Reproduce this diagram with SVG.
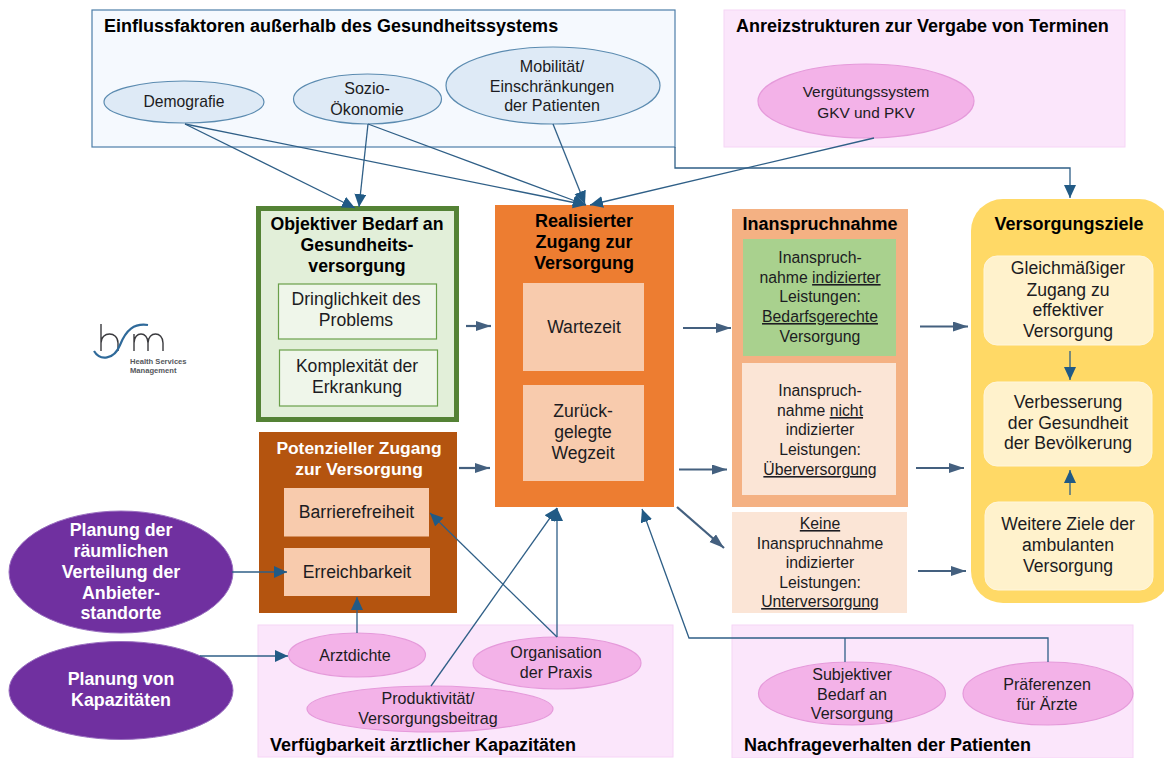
<svg xmlns="http://www.w3.org/2000/svg" width="1164" height="758" viewBox="0 0 1164 758">
<style>
text{font-family:"Liberation Sans",Arial,sans-serif;fill:#1c1c22;text-anchor:middle}
.t{font-size:15.8px}
.s{font-size:16.1px}
.l{font-size:17.6px}
.b{font-size:18px;font-weight:bold;fill:#000}
.w{font-size:17.8px;font-weight:bold;fill:#fff}
.st{text-anchor:start}
.u{text-decoration:underline}
.blue{fill:#deeaf6;stroke:#5b8bb0;stroke-width:1.2}
.pink{fill:#f3b2e8;stroke:#e59ada;stroke-width:1.2}
.purple{fill:#7030a0;stroke:#9a70c0;stroke-width:1}
.pbg{fill:#fbe6fb;stroke:#f6d5f6;stroke-width:1}
.thin{fill:none;stroke:#2f5f87;stroke-width:1.3}
.thick{fill:none;stroke:#44607f;stroke-width:2.2}
</style>
<defs>
<marker id="a" markerUnits="userSpaceOnUse" markerWidth="15" markerHeight="14" refX="13" refY="6" orient="auto"><path d="M0 0L13 6L0 12Z" fill="#215a85"/></marker>
<marker id="g" markerUnits="userSpaceOnUse" markerWidth="16" markerHeight="12" refX="15" refY="5" orient="auto"><path d="M0 0L15 5L0 10Z" fill="#44607f"/></marker>
</defs>
<rect width="1164" height="758" fill="#fff"/>

<g id="einfluss"><rect x="92" y="10" width="583" height="137" fill="#f5f9fe" stroke="#4d7ea8" stroke-width="1.2"/>
<text class="b st" x="104" y="32">Einflussfaktoren außerhalb des Gesundheitssystems</text></g>
<g id="anreiz"><rect class="pbg" x="724" y="10" width="401" height="137"/>
<text class="b st" x="736" y="32">Anreizstrukturen zur Vergabe von Terminen</text></g>
<g id="verfuegbarkeit"><rect class="pbg" x="258" y="625" width="415" height="132"/>
<text class="b st" x="270" y="751">Verfügbarkeit ärztlicher Kapazitäten</text></g>
<g id="nachfrage"><rect class="pbg" x="732" y="625" width="401" height="133"/>
<text class="b st" x="744" y="751">Nachfrageverhalten der Patienten</text></g>

<g id="demografie"><ellipse class="blue" cx="184" cy="102" rx="80" ry="21"/><text style="font-size:15.7px" x="184" y="107">Demografie</text></g>
<g id="sozio"><ellipse class="blue" cx="367.500" cy="99" rx="74" ry="25"/><text class="s" x="367" y="94">Sozio-</text><text class="s" x="367" y="115">Ökonomie</text></g>
<g id="mobilitaet"><ellipse class="blue" cx="553" cy="85.500" rx="107" ry="38.500"/><text class="s" x="552" y="72">Mobilität/</text><text class="s" x="552" y="92">Einschränkungen</text><text class="s" x="552" y="111">der Patienten</text></g>
<g id="verguetung"><ellipse class="pink" cx="866" cy="101" rx="108" ry="37"/><text style="font-size:15.4px" x="866" y="97">Vergütungssystem</text><text style="font-size:15.4px" x="866" y="118">GKV und PKV</text></g>

<g id="objektiv"><rect x="258.500" y="208.500" width="198" height="211" fill="#e2efd9" stroke="#548235" stroke-width="5"/>
<text class="b" style="font-size:17.7px" x="357" y="230">Objektiver Bedarf an</text><text class="b" style="font-size:17.7px" x="357" y="251">Gesundheits-</text><text class="b" style="font-size:17.7px" x="357" y="272">versorgung</text></g>
<g id="dringlichkeit"><rect x="278.500" y="284" width="158" height="55" fill="#eff6ea" stroke="#6aa04a" stroke-width="1.2"/><text class="l" x="356" y="305">Dringlichkeit des</text><text class="l" x="356" y="326">Problems</text></g>
<g id="komplexitaet"><rect x="279.500" y="350" width="158" height="56" fill="#eff6ea" stroke="#6aa04a" stroke-width="1.2"/><text class="l" x="357" y="372">Komplexität der</text><text class="l" x="357" y="393">Erkrankung</text></g>

<g id="potenziell"><rect x="259" y="432" width="198" height="181" fill="#b4540f"/>
<text class="w" style="font-size:17.4px" x="359" y="454">Potenzieller Zugang</text><text class="w" style="font-size:17.4px" x="359" y="475">zur Versorgung</text></g>
<g id="barriere"><rect x="284" y="488" width="145" height="48.500" fill="#f8cbad"/><text class="l" x="356.500" y="518">Barrierefreiheit</text></g>
<g id="erreichbarkeit"><rect x="284" y="548" width="146" height="48" fill="#f8cbad"/><text class="l" x="357" y="578">Erreichbarkeit</text></g>

<g id="realisiert"><rect x="495" y="205" width="179" height="302" fill="#ed7d31"/>
<text class="b" x="584" y="227">Realisierter</text><text class="b" x="584" y="248">Zugang zur</text><text class="b" x="584" y="269">Versorgung</text></g>
<g id="wartezeit"><rect x="523" y="283" width="121" height="88" fill="#f8cbad"/><text class="l" x="584" y="333">Wartezeit</text></g>
<g id="wegzeit"><rect x="523" y="385" width="121" height="96" fill="#f8cbad"/><text class="l" x="583" y="417">Zurück-</text><text class="l" x="583" y="438">gelegte</text><text class="l" x="583" y="459">Wegzeit</text></g>

<g id="inanspruchnahme"><rect x="732" y="209" width="176" height="298" fill="#f4b183"/>
<text class="b" x="820" y="230">Inanspruchnahme</text></g>
<g id="indiziert"><rect x="743" y="239" width="153" height="117" fill="#a9d18e"/>
<text class="t" x="820" y="263">Inanspruch-</text><text class="t" x="820" y="283">nahme <tspan class="u">indizierter</tspan></text><text class="t" x="820" y="302">Leistungen:</text><text class="t u" x="820" y="322">Bedarfsgerechte</text><text class="t" x="820" y="342">Versorgung</text></g>
<g id="nichtindiziert"><rect x="742" y="363" width="154" height="132" fill="#fbe5d6"/>
<text class="t" x="820" y="396">Inanspruch-</text><text class="t" x="820" y="416">nahme <tspan class="u">nicht</tspan></text><text class="t" x="820" y="435">indizierter</text><text class="t" x="820" y="455">Leistungen:</text><text class="t u" x="820" y="475">Überversorgung</text></g>
<g id="keine"><rect x="732" y="512" width="175" height="101" fill="#fbe5d6"/>
<text class="t u" x="820" y="529">Keine</text><text class="t" x="820" y="549">Inanspruchnahme</text><text class="t" x="820" y="568">indizierter</text><text class="t" x="820" y="588">Leistungen:</text><text class="t u" x="820" y="607">Unterversorgung</text></g>

<g id="ziele"><rect x="971" y="199" width="200" height="404" rx="32" fill="#ffd966"/>
<text class="b" x="1069" y="230">Versorgungsziele</text></g>
<g id="ziel1"><rect x="984" y="256" width="169" height="89" rx="13" fill="#fff2cc" stroke="#fff6dc"/><text class="l" x="1068" y="274">Gleichmäßiger</text><text class="l" x="1068" y="296">Zugang zu</text><text class="l" x="1068" y="316">effektiver</text><text class="l" x="1068" y="337">Versorgung</text></g>
<g id="ziel2"><rect x="984" y="382" width="168" height="84" rx="13" fill="#fff2cc" stroke="#fff6dc"/><text class="l" x="1068" y="408">Verbesserung</text><text class="l" x="1068" y="429">der Gesundheit</text><text class="l" x="1068" y="449">der Bevölkerung</text></g>
<g id="ziel3"><rect x="985" y="502" width="168" height="88" rx="13" fill="#fff2cc" stroke="#fff6dc"/><text class="l" x="1068" y="530">Weitere Ziele der</text><text class="l" x="1068" y="551">ambulanten</text><text class="l" x="1068" y="572">Versorgung</text></g>

<g id="arztdichte"><ellipse class="pink" cx="357" cy="655" rx="68.500" ry="22"/><text class="s" x="355" y="661">Arztdichte</text></g>
<g id="organisation"><ellipse class="pink" cx="557" cy="663" rx="84" ry="26"/><text class="s" x="556" y="658">Organisation</text><text class="s" x="556" y="678">der Praxis</text></g>
<g id="produktivitaet"><ellipse class="pink" cx="430" cy="709" rx="123" ry="23"/><text class="s" x="428" y="704">Produktivität/</text><text class="s" x="428" y="724">Versorgungsbeitrag</text></g>
<g id="subjektiv"><ellipse class="pink" cx="852" cy="693.500" rx="93.500" ry="31.500"/><text class="s" x="852" y="680">Subjektiver</text><text class="s" x="852" y="700">Bedarf an</text><text class="s" x="852" y="719">Versorgung</text></g>
<g id="praeferenzen"><ellipse class="pink" cx="1048" cy="693.500" rx="85" ry="31.500"/><text class="s" x="1047" y="690">Präferenzen</text><text class="s" x="1047" y="710">für Ärzte</text></g>

<g id="planung-raum"><ellipse class="purple" cx="121" cy="572" rx="112" ry="61"/><text class="w" x="121" y="536">Planung der</text><text class="w" x="121" y="557">räumlichen</text><text class="w" x="121" y="578">Verteilung der</text><text class="w" x="121" y="599">Anbieter-</text><text class="w" x="121" y="619">standorte</text></g>
<g id="planung-kap"><ellipse class="purple" cx="121" cy="690.500" rx="112" ry="49"/><text class="w" x="121" y="685">Planung von</text><text class="w" x="121" y="706">Kapazitäten</text></g>

<g id="logo">
<path d="M101 324V351M101 343C101 331 118 331 118 343V351" fill="none" stroke="#3a3a3e" stroke-width="1.4"/>
<path d="M94 351C100 361 114 360 120 345C126 330 134 323 148 325" fill="none" stroke="#2f6a9a" stroke-width="2.2"/>
<path d="M134 351V334M134 343C134 331 148 331 148 343V351M148 343C148 331 163 331 163 343V351" fill="none" stroke="#3a3a3e" stroke-width="1.4"/>
<text x="130" y="364" style="font-size:7.6px;font-weight:bold;text-anchor:start;fill:#55585c">Health Services</text>
<text x="130" y="373" style="font-size:7.6px;font-weight:bold;text-anchor:start;fill:#55585c">Management</text>
</g>

<g id="connectors">
<path class="thin" marker-end="url(#a)" d="M185 124L355 208"/>
<path class="thin" marker-end="url(#a)" d="M185 124L586 205"/>
<path class="thin" marker-end="url(#a)" d="M368 124L359 207"/>
<path class="thin" marker-end="url(#a)" d="M368 124L586 205"/>
<path class="thin" marker-end="url(#a)" d="M553 124L585 204"/>
<path class="thin" marker-end="url(#a)" d="M874 138L590 205"/>
<path class="thin" marker-end="url(#a)" d="M675 147V168H1070V198"/>
<path class="thin" marker-end="url(#a)" d="M1070 351V380"/>
<path class="thin" marker-end="url(#a)" d="M1070 495V470"/>
<path class="thin" marker-end="url(#a)" d="M232 572H287"/>
<path class="thin" marker-end="url(#a)" d="M200 656H288"/>
<path class="thin" marker-end="url(#a)" d="M357 633V597"/>
<path class="thin" marker-end="url(#a)" d="M557 637L430 513"/>
<path class="thin" marker-end="url(#a)" d="M557 637V508"/>
<path class="thin" marker-end="url(#a)" d="M431 686L557 508"/>
<path class="thin" marker-end="url(#a)" d="M1048 662V638H689L642 509"/>
<path class="thin" d="M845 662V638"/>
<path class="thick" marker-end="url(#g)" d="M466 326H491"/>
<path class="thick" marker-end="url(#g)" d="M459 468H490"/>
<path class="thick" marker-end="url(#g)" d="M683 328H731"/>
<path class="thick" marker-end="url(#g)" d="M679 469.500H727"/>
<path class="thick" marker-end="url(#g)" d="M920 326.500H968"/>
<path class="thick" marker-end="url(#g)" d="M916 468H964"/>
<path class="thick" marker-end="url(#g)" d="M677 507L724 548"/>
<path class="thick" marker-end="url(#g)" d="M918 571H966"/>
</g>
</svg>
